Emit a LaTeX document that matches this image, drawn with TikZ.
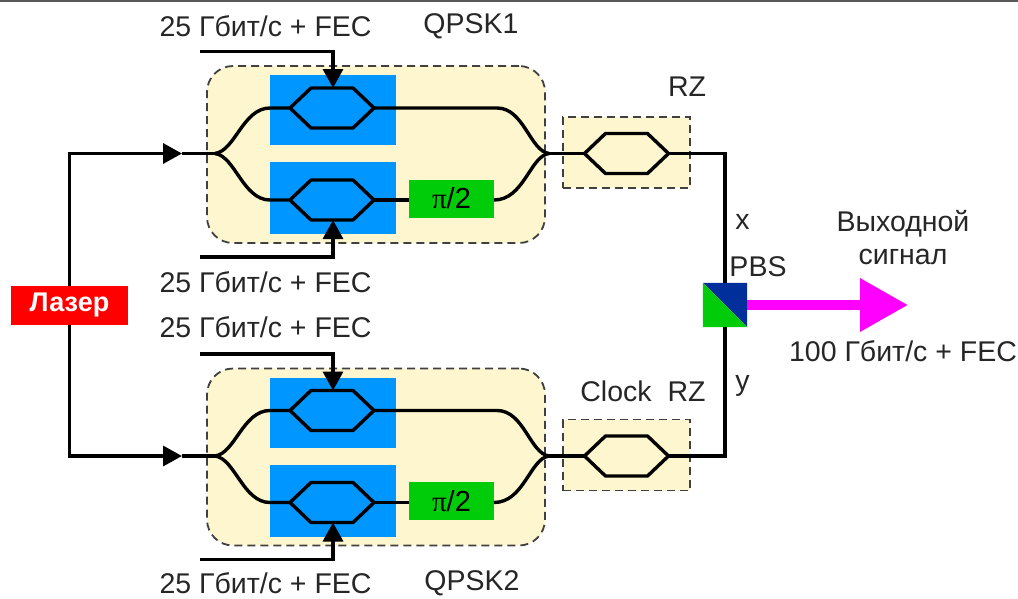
\documentclass[tikz,border=0pt]{standalone}
\usepackage{fontspec}
\setmainfont{Liberation Sans}
\newfontfamily\serifpi{Liberation Serif}
\usetikzlibrary{arrows.meta,calc}
\definecolor{cream}{HTML}{FDF6CE}
\definecolor{bluebox}{HTML}{0096FF}
\definecolor{greenbox}{HTML}{00CC0A}
\definecolor{pbsblue}{HTML}{002E9B}
\definecolor{outmag}{HTML}{FF00FF}
\newcommand{\mzhex}[2]{% name, centre
  \coordinate (#1) at (#2);
  \coordinate (#1L) at ($(#1)+(-42,0)$);
  \coordinate (#1R) at ($(#1)+(42,0)$);
  \coordinate (#1T) at ($(#1)+(0,-20)$);
  \coordinate (#1B) at ($(#1)+(0,20)$);
  \draw[wire,line join=round] (#1L) -- ($(#1)+(-21,-20)$) -- ($(#1)+(21,-20)$) -- (#1R) -- ($(#1)+(21,20)$) -- ($(#1)+(-21,20)$) -- cycle;
}
\newcommand{\qpsk}[2]{% prefix, dy
  \begin{scope}[shift={(0,#2)}]
    \node[dashbox,rounded corners=26pt,minimum width=338pt,minimum height=177pt] (#1box) at (376,154.5) {};
    \node[bluebox] (#1b1) at (333,110) {};
    \node[bluebox,minimum height=72pt] (#1b2) at (333,198) {};
    \node[phase] (#1ph) at (451.5,198.5) {{\serifpi π}/2};
    \coordinate (#1in) at (182,153.5);
    \coordinate (#1sp) at (215,153.5);
    \coordinate (#1mg) at (549,153.5);
    \coordinate (#1u) at (270,108);
    \coordinate (#1d) at (270,200);
    \coordinate (#1ur) at (497,108);
    \coordinate (#1pe) at (494,200);
    \mzhex{#1a}{332,108}
    \mzhex{#1c}{332,200}
    \draw[wire] (#1in) -- (#1sp);
    \draw[wire] (#1sp) .. controls (235,151) and (243,108) .. (#1u) -- (#1aL);
    \draw[wire] (#1sp) .. controls (235,156) and (243,200) .. (#1d) -- (#1cL);
    \draw[wire] (#1aR) -- (#1ur) .. controls (524,108) and (530,151) .. (#1mg);
    \draw[wire] (#1cR) -- (#1ph.west |- #1cR);
    \draw[wire] (#1pe) .. controls (524,200) and (530,156) .. (#1mg);
    \coordinate (#1t0) at (200,51.5);
    \coordinate (#1t1) at (333,51.5);
    \coordinate (#1b0) at (200,257);
    \coordinate (#1b3) at (333,257);
    \draw[wire,-{Triangle[length=19pt,width=20pt]}] (#1t0) -- (#1t1) -- (#1aT -| #1t1);
    \draw[wire,-{Triangle[length=19pt,width=20pt]}] (#1b0) -- (#1b3) -- (#1cB -| #1b3);
    \node[dashbox,minimum width=127pt,minimum height=71pt] (#1rz) at (626.5,152.5) {};
    \mzhex{#1z}{626.5,153.5}
    \draw[wire] (#1mg) -- (#1zL);
  \end{scope}
}
\tikzset{
  wire/.style={draw=black,line width=3.4pt},
  dashbox/.style={draw=black!75,fill=cream,line width=1.8pt,dash pattern=on 8pt off 5pt,inner sep=0pt},
  bluebox/.style={fill=bluebox,minimum width=126pt,minimum height=70pt,inner sep=0pt},
  phase/.style={fill=greenbox,minimum width=85pt,minimum height=38pt,inner sep=0pt,font=\fontsize{29}{30}\selectfont},
  lbl/.style={font=\fontsize{28.5}{30}\selectfont,text=black!85,inner sep=0pt},
}
\begin{document}
\begin{tikzpicture}[x=1pt,y=-1pt]
\useasboundingbox (0,0) rectangle (1018,598);
\fill[white] (0,0) rectangle (1018,598);
\fill[black!65] (0,0) rectangle (1018,2);
\qpsk{A}{0}
\qpsk{B}{302.5}
% laser feed
\node[fill=red,minimum width=117pt,minimum height=39pt,inner sep=0pt,text=white,font=\bfseries\fontsize{27}{30}\selectfont] (laser) at (69.5,305.5) {Лазер};
\draw[wire,-{Triangle[length=19pt,width=20pt]}] (laser.north) -- (laser.north |- Ain) -- (Ain);
\draw[wire,-{Triangle[length=19pt,width=20pt]}] (laser.south) -- (laser.south |- Bin) -- (Bin);
% PBS
\node[minimum size=44pt,inner sep=0pt] (pbs) at (725,305) {};
\fill[pbsblue] (pbs.north west) -- (pbs.north east) -- (pbs.south east) -- cycle;
\fill[greenbox] (pbs.north west) -- (pbs.south west) -- (pbs.south east) -- cycle;
\draw[wire] (AzR) -- (pbs.north |- AzR) -- (pbs.north);
\draw[wire] (BzR) -- (pbs.south |- BzR) -- (pbs.south);
% output
\coordinate (out) at (908,305);
\draw[draw=outmag,line width=10pt,-{Triangle[length=48pt,width=51pt]}] (pbs.east) -- (out);
% labels
\node[lbl] (l1) at (265.5,26) {25 Гбит/с + FEC};
\node[lbl] (l2) at (265.5,282) {25 Гбит/с + FEC};
\node[lbl] (l3) at (265.5,327) {25 Гбит/с + FEC};
\node[lbl] (l4) at (265.5,583) {25 Гбит/с + FEC};
\node[lbl] (q1) at (471,26) {QPSK1};
\node[lbl] (q2) at (472,583) {QPSK2};
\node[lbl] (rz1) at (687,87) {RZ};
\node[lbl] (rz2) at (643,391) {Clock\hspace{8pt} RZ};
\node[lbl] (x) at (742.5,222) {x};
\node[lbl] (y) at (742.5,386) {y};
\node[lbl] (pbsl) at (758,267) {PBS};
\node[lbl] (o1) at (903,224) {Выходной};
\node[lbl] (o2) at (903,257) {сигнал};
\node[lbl] (o3) at (903,351) {100 Гбит/с + FEC};
\end{tikzpicture}
\end{document}
